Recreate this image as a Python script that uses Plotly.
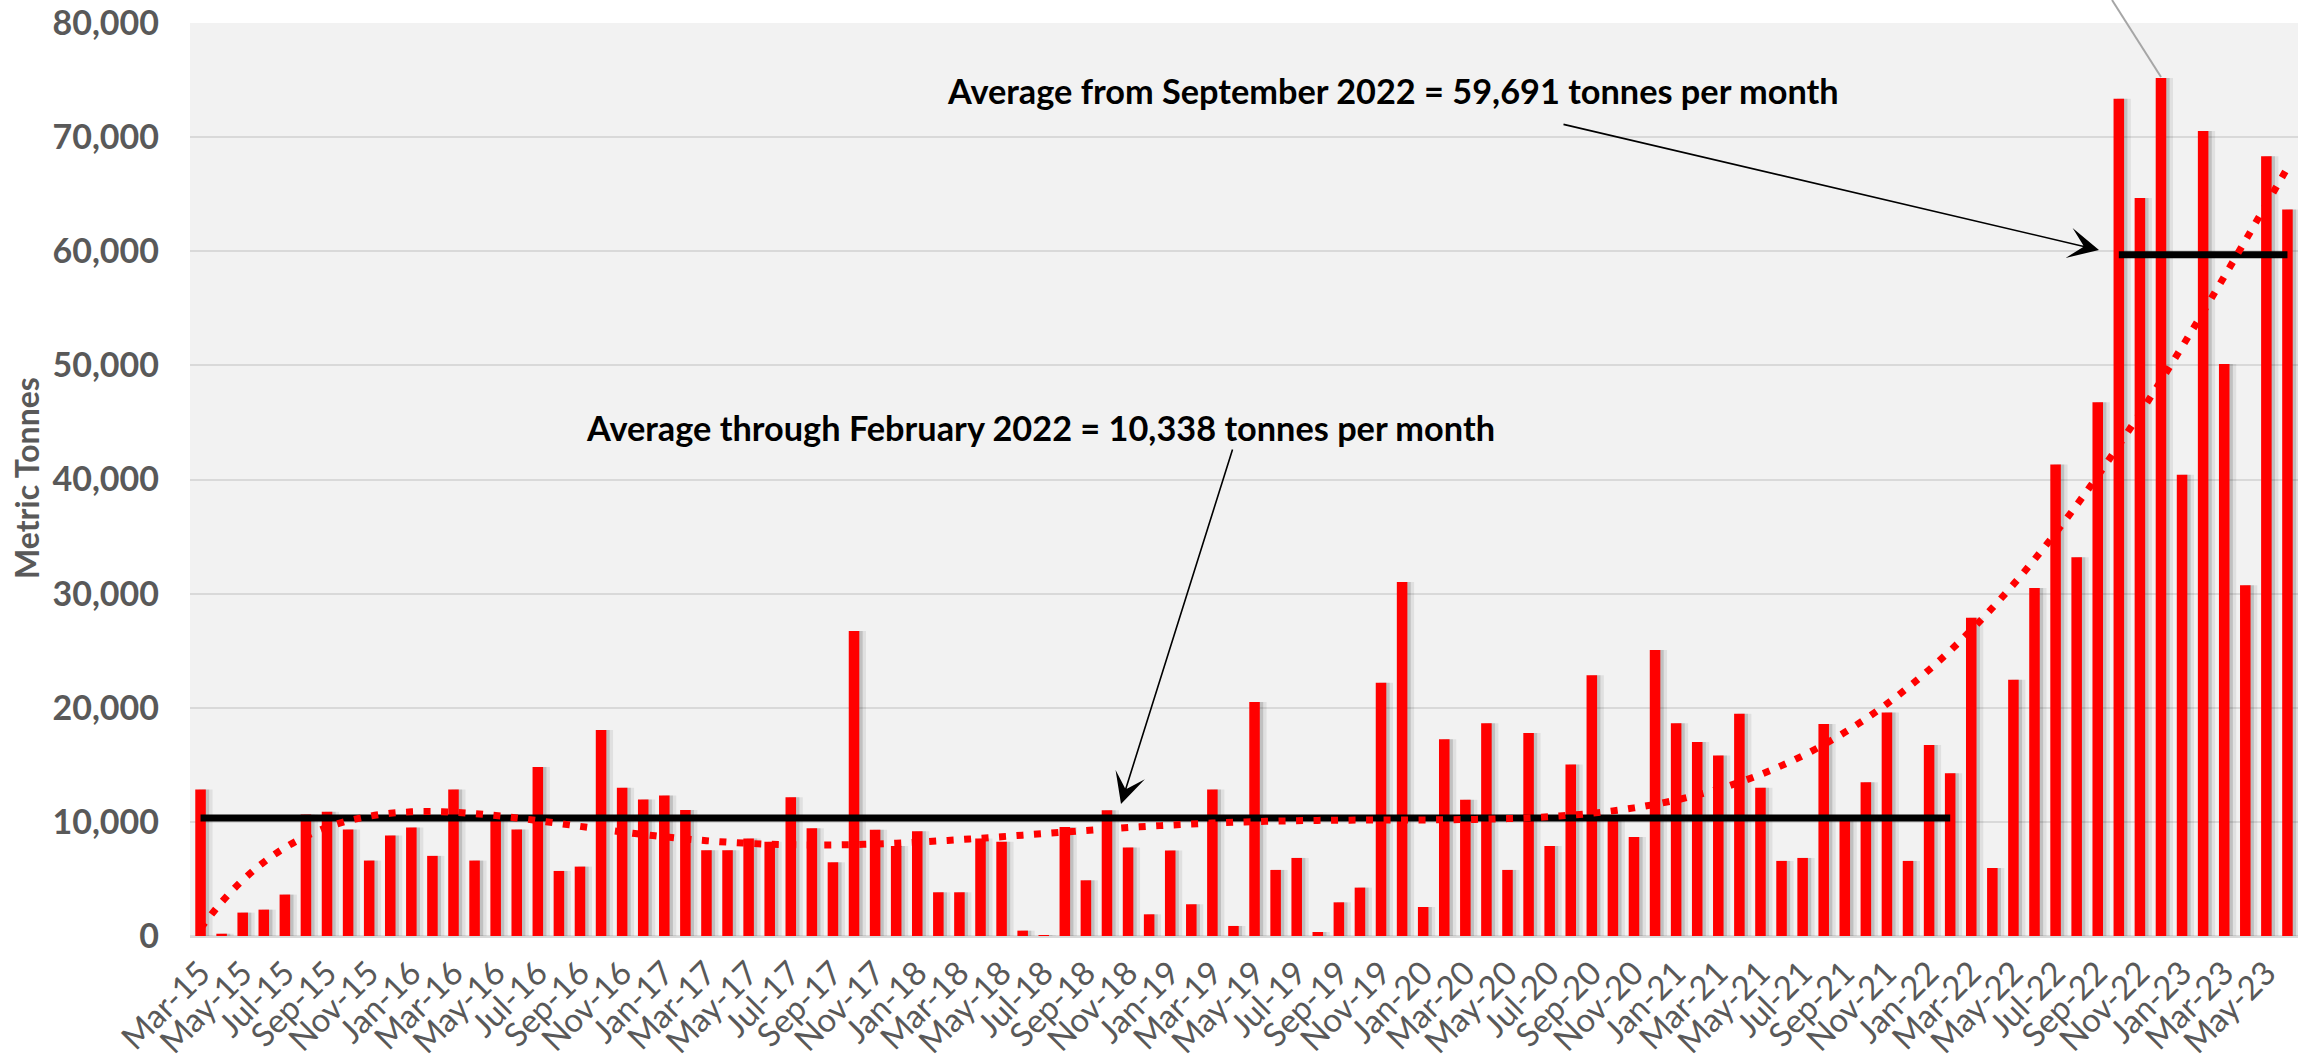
import numpy as np
import plotly.graph_objects as go

# ---------------- data ----------------
months = [
    "Mar-15", "Apr-15", "May-15", "Jun-15", "Jul-15", "Aug-15", "Sep-15", "Oct-15", "Nov-15", "Dec-15",
    "Jan-16", "Feb-16", "Mar-16", "Apr-16", "May-16", "Jun-16", "Jul-16", "Aug-16", "Sep-16", "Oct-16",
    "Nov-16", "Dec-16", "Jan-17", "Feb-17", "Mar-17", "Apr-17", "May-17", "Jun-17", "Jul-17", "Aug-17",
    "Sep-17", "Oct-17", "Nov-17", "Dec-17", "Jan-18", "Feb-18", "Mar-18", "Apr-18", "May-18", "Jun-18",
    "Jul-18", "Aug-18", "Sep-18", "Oct-18", "Nov-18", "Dec-18", "Jan-19", "Feb-19", "Mar-19", "Apr-19",
    "May-19", "Jun-19", "Jul-19", "Aug-19", "Sep-19", "Oct-19", "Nov-19", "Dec-19", "Jan-20", "Feb-20",
    "Mar-20", "Apr-20", "May-20", "Jun-20", "Jul-20", "Aug-20", "Sep-20", "Oct-20", "Nov-20", "Dec-20",
    "Jan-21", "Feb-21", "Mar-21", "Apr-21", "May-21", "Jun-21", "Jul-21", "Aug-21", "Sep-21", "Oct-21",
    "Nov-21", "Dec-21", "Jan-22", "Feb-22", "Mar-22", "Apr-22", "May-22", "Jun-22", "Jul-22", "Aug-22",
    "Sep-22", "Oct-22", "Nov-22", "Dec-22", "Jan-23", "Feb-23", "Mar-23", "Apr-23", "May-23", "Jun-23",
]

tonnes = [
    12840, 200, 2050, 2310, 3630, 10640, 10880, 9330, 6610, 8800,
    9500, 7020, 12840, 6610, 10200, 9330, 14800, 5700, 6080, 18040,
    12980, 11960, 12310, 11050, 7510, 7510, 8540, 8250, 12160, 9440,
    6460, 26730, 9300, 7890, 9180, 3830, 3830, 8540, 8250, 470,
    60, 9560, 4880, 11020, 7750, 1900, 7490, 2780, 12840, 880,
    20500, 5790, 6840, 350, 2950, 4240, 22190, 31020, 2540, 17250,
    11930, 18650, 5790, 17780, 7890, 15030, 22840, 10300, 8680, 25060,
    18650, 16990, 15820, 19470, 12980, 6580, 6840, 18570, 10100, 13480,
    19590, 6580, 16730, 14270, 27890, 5960, 22460, 30500, 41310, 33180,
    46770, 73370, 64670, 75180, 40410, 70540, 50130, 30740, 68320, 63650,
]

tick_labels = months[::2]

avg_through_feb22 = 10338          # Mar-15 .. Feb-22
avg_from_sep22 = 59691             # Oct-22 .. Jun-23 (as drawn)
avg1_months = months[0:84]
avg2_months = months[91:100]

label_avg1 = "Average through February 2022 = 10,338 tonnes per month"
label_avg2 = "Average from September 2022 = 59,691 tonnes per month"

# polynomial (order 6) trendline, as in the spreadsheet chart
xi = np.arange(1, len(tonnes) + 1)
poly = np.polynomial.Polynomial.fit(xi, np.array(tonnes, dtype=float), 6)
trend = poly(xi)

# ---------------- layout helpers ----------------
W, H = 2298, 1060
L, R, T, B = 190, 0, 23, 124
PW, PH = W - L - R, H - T - B


def px(X):
    return (X - L) / PW


def py(Y):
    return (H - B - Y) / PH


GRAY = "#595959"
FONT = "Lato"

fig = go.Figure()

# soft drop shadows of the bars
fig.add_trace(go.Bar(x=months, y=tonnes, width=0.5, offset=-0.25 + 0.32,
                     marker=dict(color="rgba(0,0,0,0.07)", line=dict(width=0)),
                     hoverinfo="skip", showlegend=False))
fig.add_trace(go.Bar(x=months, y=tonnes, width=0.5, offset=-0.25 + 0.16,
                     marker=dict(color="rgba(0,0,0,0.14)", line=dict(width=0)),
                     hoverinfo="skip", showlegend=False))
# bars
fig.add_trace(go.Bar(x=months, y=tonnes, width=0.5, offset=-0.25,
                     marker=dict(color="#FF0000", line=dict(width=0)),
                     name="Metric Tonnes", showlegend=False))

# average lines
fig.add_trace(go.Scatter(x=avg1_months, y=[avg_through_feb22] * len(avg1_months),
                         mode="lines", line=dict(color="black", width=7),
                         showlegend=False, hoverinfo="skip"))
fig.add_trace(go.Scatter(x=avg2_months, y=[avg_from_sep22] * len(avg2_months),
                         mode="lines", line=dict(color="black", width=7),
                         showlegend=False, hoverinfo="skip"))

# trendline
fig.add_trace(go.Scatter(x=months, y=trend, mode="lines",
                         line=dict(color="#FF0000", width=7, dash="7px,10.5px", shape="spline"),
                         showlegend=False, hoverinfo="skip"))

annotations = [
    dict(text="Metric Tonnes", xref="paper", yref="paper", x=px(27), y=py(478), textangle=-90,
         showarrow=False, xanchor="center", yanchor="middle",
         font=dict(family=FONT, size=32, color=GRAY, weight="bold")),
    dict(text=label_avg1, xref="paper", yref="paper", x=px(1040), y=py(427),
         showarrow=False, xanchor="center", yanchor="middle",
         font=dict(family=FONT, size=34.3, color="black", weight="bold")),
    dict(text=label_avg2, xref="paper", yref="paper", x=px(1393), y=py(91),
         showarrow=False, xanchor="center", yanchor="middle",
         font=dict(family=FONT, size=34.3, color="black", weight="bold")),
    # arrows
    dict(text="", xref="paper", yref="paper", x=px(1121), y=py(804),
         ax=1233 - 1121, ay=448 - 804, showarrow=True, arrowhead=3, arrowsize=3.2,
         arrowwidth=1.6, arrowcolor="black", standoff=0),
    dict(text="", xref="paper", yref="paper", x=px(2099), y=py(250),
         ax=1562 - 2099, ay=124 - 250, showarrow=True, arrowhead=3, arrowsize=3.2,
         arrowwidth=1.6, arrowcolor="black", standoff=0),
]

shapes = [
    dict(type="line", xref="paper", yref="paper", x0=px(2112), y0=py(0), x1=px(2161), y1=py(77),
         line=dict(color="#A6A6A6", width=2)),
]

fig.update_layout(
    width=W, height=H,
    margin=dict(l=L, r=R, t=T, b=B, pad=0),
    paper_bgcolor="white",
    plot_bgcolor="#F2F2F2",
    barmode="overlay",
    showlegend=False,
    annotations=annotations,
    shapes=shapes,
    xaxis=dict(type="category", categoryorder="array", categoryarray=months,
               tickmode="array", tickvals=tick_labels, ticktext=tick_labels,
               tickangle=-45, tickfont=dict(family=FONT, size=33, color=GRAY),
               showgrid=False, showline=False, ticks="", ticklabelstandoff=10,
               automargin=False, range=[-0.5, len(months) - 0.5]),
    yaxis=dict(range=[0, 80000], dtick=10000, tickformat=",", showgrid=True,
               gridcolor="#D9D9D9", gridwidth=2, zeroline=True, zerolinecolor="#D9D9D9",
               zerolinewidth=3, showline=False, ticks="", ticklabelstandoff=30,
               automargin=False,
               tickfont=dict(family=FONT, size=34, color=GRAY, weight="bold")),
)

fig.write_html(
    "out.html",
    config={"displayModeBar": False},
    post_script="document.body.style.margin='0px';document.body.style.padding='0px';"
                "document.body.style.overflow='hidden';",
)
